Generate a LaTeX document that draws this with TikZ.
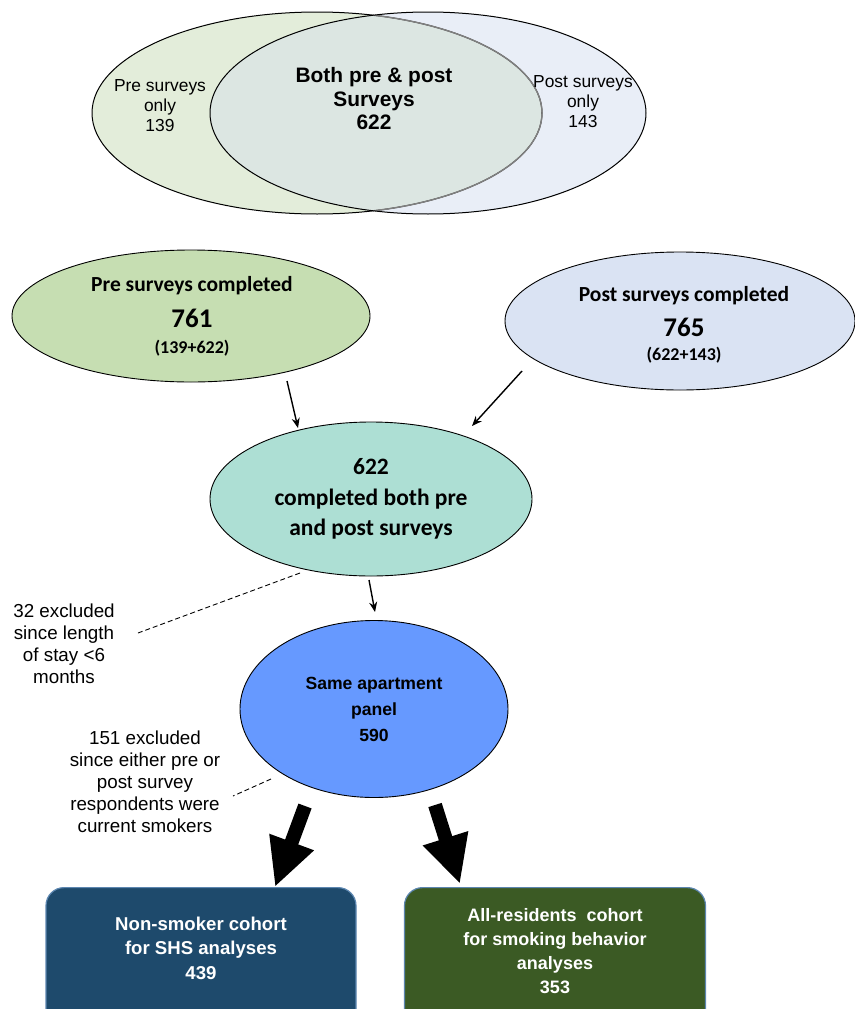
\documentclass[tikz,border=0pt]{standalone}
\usepackage{fontspec}
\setmainfont{Liberation Sans}
\newfontfamily\calfont{Carlito}
\usetikzlibrary{shapes.geometric,arrows.meta}
\definecolor{vgreen}{HTML}{E3EDDA}
\definecolor{vblue}{HTML}{E9EEF7}
\definecolor{vmid}{HTML}{DCE6E2}
\definecolor{pregreen}{HTML}{C6DEB2}
\definecolor{postblue}{HTML}{DAE3F3}
\definecolor{tealc}{HTML}{ADDFD4}
\definecolor{panelblue}{HTML}{6699FF}
\definecolor{boxblue}{HTML}{1E4A6C}
\definecolor{boxgreen}{HTML}{3B5A24}
\definecolor{boxedge}{HTML}{5C86B0}
\tikzset{
  ell/.style={ellipse,draw=black,line width=0.9pt,inner sep=0pt,align=center},
  cohort/.style={draw=boxedge,line width=1.2pt,rounded corners=18pt},
  thinarrow/.style={-{Stealth[length=10pt,width=8pt]},line width=1.4pt},
  fat/.style={line width=14pt,-{Triangle[width=44pt,length=48pt]}},
  note/.style={align=center,font=\fontsize{18.8}{22}\selectfont},
  venntext/.style={align=center,font=\fontsize{17.4}{20}\selectfont},
  dash5/.style={dash pattern=on 5pt off 3pt,line width=0.9pt},
  cohorttext/.style={text=white,align=center,font=\bfseries\fontsize{18.6}{24.5}\selectfont},
}
\begin{document}
\begin{tikzpicture}[x=1pt,y=-1pt]
\useasboundingbox (0,0) rectangle (854,1009);
% Venn
\fill[vgreen] (317,113) ellipse [x radius=225,y radius=101];
\fill[vblue] (428,113) ellipse [x radius=218,y radius=101];
\begin{scope}
\clip (317,113) ellipse [x radius=225,y radius=101];
\fill[vmid] (428,113) ellipse [x radius=218,y radius=101];
\end{scope}
\draw[line width=1pt] (317,113) ellipse [x radius=225,y radius=101];
\begin{scope}
\clip (428,113) ellipse [x radius=218,y radius=101];
\draw[line width=1.4pt,gray] (317,113) ellipse [x radius=225,y radius=101];
\end{scope}
\draw[line width=1pt] (428,113) ellipse [x radius=218,y radius=101];
\node[venntext] (preonly) at (160,106) {Pre surveys\\only\\139};
\node[align=center,font=\bfseries\fontsize{20.9}{23.5}\selectfont] (both) at (374,99) {Both pre \& post\\Surveys\\622};
\node[venntext] (postonly) at (583,102) {Post surveys\\only\\143};
% second row
\node[ell,fill=pregreen,minimum width=358pt,minimum height=132pt] (pre) at (191,316) {};
\node[font=\calfont\bfseries\fontsize{21.5}{24}\selectfont] (pre1) at (192,286) {Pre surveys completed};
\node[font=\calfont\bfseries\fontsize{27}{30}\selectfont] (pre2) at (192,318) {761};
\node[font=\calfont\bfseries\fontsize{18}{20}\selectfont] (pre3) at (192,348) {(139+622)};
\node[ell,fill=postblue,minimum width=350pt,minimum height=138pt] (post) at (680,321) {};
\node[font=\calfont\bfseries\fontsize{21.5}{24}\selectfont] (post1) at (684,296) {Post surveys completed};
\node[font=\calfont\bfseries\fontsize{27}{30}\selectfont] (post2) at (684,327) {765};
\node[font=\calfont\bfseries\fontsize{18}{20}\selectfont] (post3) at (684,355) {(622+143)};
% both
\node[ell,fill=tealc,minimum width=322pt,minimum height=154pt,font=\calfont\bfseries\fontsize{23.5}{30.5}\selectfont] (bothc) at (371,499) {622\\completed both pre\\and post surveys};
\coordinate (a1s) at (287,381);
\coordinate (a1e) at (298,428);
\coordinate (a2s) at (522,371);
\coordinate (a2e) at (472,426);
\draw[thinarrow] (a1s) -- (a1e);
\draw[thinarrow] (a2s) -- (a2e);
% panel
\node[ell,fill=panelblue,minimum width=268pt,minimum height=177pt,font=\bfseries\fontsize{17.6}{26}\selectfont] (panel) at (374,709) {Same apartment\\panel\\590};
\coordinate (a3s) at (369,580);
\coordinate (a3e) at (375,612);
\draw[thinarrow] (a3s) -- (a3e);
% notes
\node[note] (n32) at (64,644) {32 excluded\\since length\\of stay <6\\months};
\node[note] (n151) at (145,782) {151 excluded\\since either pre or\\post survey\\respondents were\\current smokers};
\coordinate (d1s) at (300,573);
\coordinate (d1e) at (138,633);
\coordinate (d2s) at (271,779);
\coordinate (d2e) at (233,796);
\draw[dash5] (d1s) -- (d1e);
\draw[dash5] (d2s) -- (d2e);
% cohorts
\node[cohort,fill=boxblue,minimum width=310pt,minimum height=140pt,anchor=north] (c1) at (201,887) {};
\node[cohorttext] (c1t) at (201,948) {Non-smoker cohort\\for SHS analyses\\439};
\node[cohort,fill=boxgreen,minimum width=301pt,minimum height=140pt,anchor=north] (c2) at (555,887) {};
\node[cohorttext,font=\bfseries\fontsize{18}{24}\selectfont] (c2t) at (555,951) {All-residents\ \ cohort\\for smoking behavior\\analyses\\353};
\coordinate (f1s) at (305,806);
\coordinate (f1e) at (275,887);
\coordinate (f2s) at (435,805);
\coordinate (f2e) at (460,884);
\draw[fat] (f1s) -- (f1e);
\draw[fat] (f2s) -- (f2e);
\end{tikzpicture}
\end{document}
